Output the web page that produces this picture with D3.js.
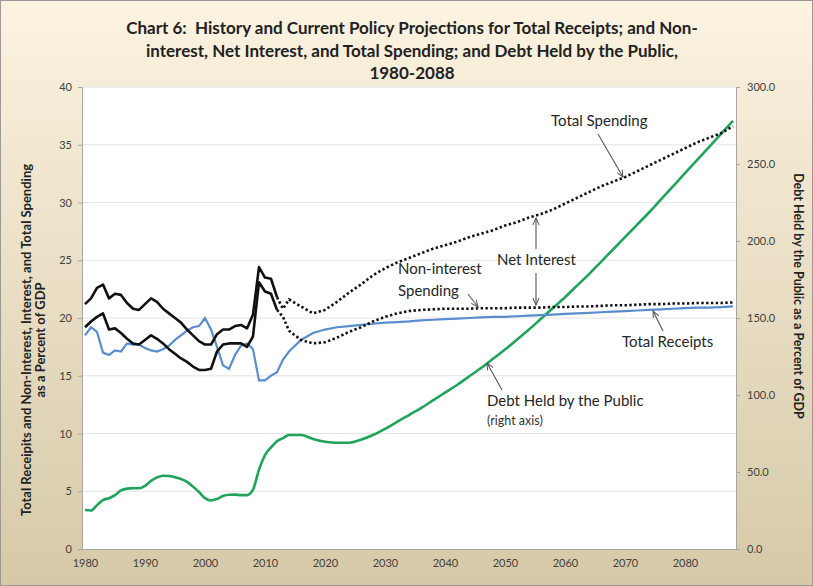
<!DOCTYPE html>
<meta charset="utf-8">
<head>
<script src="https://d3js.org/d3.v7.min.js"></script>
<style>
  body { margin: 0; }
  text { font-family: Lato, "Open Sans", sans-serif; }
  .tick-label { font-size: 11px; fill: #404040; }
  .note { font-size: 15px; fill: #262626; }
</style>
</head>
<body>
<svg width="813" height="586"></svg>
<script>
// history, one value per year 1980-2012
var histYears = d3.range(1980, 2013);
var spendHist = [21.2, 21.7, 22.6, 22.9, 21.7, 22.1, 22.0, 21.3, 20.8, 20.7, 21.2, 21.7, 21.4, 20.8, 20.4, 20.0, 19.6,
                 19.0, 18.5, 18.0, 17.7, 17.7, 18.6, 19.0, 19.0, 19.3, 19.4, 19.1, 20.3, 24.4, 23.5, 23.4, 21.8];
var nonIntHist = [19.2, 19.7, 20.1, 20.4, 19.0, 19.1, 18.7, 18.2, 17.8, 17.7, 18.1, 18.5, 18.2, 17.8, 17.3, 16.9, 16.5,
                  16.2, 15.8, 15.5, 15.5, 15.6, 17.1, 17.7, 17.8, 17.8, 17.8, 17.5, 18.4, 23.1, 22.3, 22.1, 20.7];
var receiptsHist = [18.5, 19.2, 18.8, 17.0, 16.8, 17.2, 17.1, 17.8, 17.7, 17.7, 17.4, 17.2, 17.1, 17.3, 17.6, 18.1, 18.5,
                    18.9, 19.2, 19.3, 20.0, 19.0, 17.5, 15.9, 15.6, 16.8, 17.6, 17.8, 17.3, 14.6, 14.6, 15.0, 15.3];
var debtHist = [25.3, 25.0, 28.5, 31.8, 33.0, 35.0, 38.0, 39.2, 39.5, 39.4, 41.0, 44.2, 46.5, 47.6, 47.4, 46.6, 45.5,
                43.6, 40.5, 37.0, 33.0, 31.5, 32.5, 34.4, 35.2, 35.3, 35.0, 35.0, 38.5, 51.5, 61.0, 66.0, 70.0];

// projections
var projYears = [2012, 2013].concat(d3.range(2014, 2089, 2));
var spendProj = [21.8, 20.8, 21.6, 21.0, 20.4, 20.7, 21.4, 22.2, 22.9, 23.7, 24.3, 24.8, 25.2, 25.6, 26.0, 26.3, 26.6,
                 27.0, 27.3, 27.6, 28.0, 28.3, 28.7, 29.0, 29.4, 29.9, 30.4, 30.9, 31.4, 31.8, 32.2, 32.7, 33.2, 33.7,
                 34.2, 34.7, 35.2, 35.6, 36.0, 36.6];
var nonIntProj = [20.7, 20.1, 18.9, 18.1, 17.8, 17.9, 18.3, 18.8, 19.2, 19.7, 20.1, 20.4, 20.6, 20.7, 20.75, 20.8, 20.8,
                  20.8, 20.85, 20.85, 20.85, 20.9, 20.9, 20.9, 20.95, 20.95, 21.0, 21.0, 21.05, 21.1, 21.1, 21.15, 21.2,
                  21.2, 21.25, 21.25, 21.3, 21.3, 21.3, 21.35];
var receiptsProj = [15.3, 16.4, 17.1, 18.1, 18.7, 19.0, 19.2, 19.3, 19.4, 19.5, 19.6, 19.65, 19.7, 19.8, 19.85, 19.9,
                    19.95, 20.0, 20.05, 20.1, 20.1, 20.15, 20.2, 20.25, 20.3, 20.35, 20.4, 20.45, 20.5, 20.55, 20.6,
                    20.65, 20.7, 20.75, 20.8, 20.85, 20.9, 20.9, 20.95, 21.0];
var debtProj = [70, 72, 74, 74, 71.5, 69.7, 69, 69, 71, 74, 78, 82.5, 87, 91.5, 96.5, 101.5, 106.5, 112, 117.5, 123.5,
                129.5, 136, 142.5, 149.5, 156.5, 163.5, 171, 178.5, 186.5, 194.5, 202.5, 210.5, 218.5, 227, 235.5,
                244, 252.5, 261, 269.5, 278];

var leftTicks = [0, 5, 10, 15, 20, 25, 30, 35, 40];
var rightTicks = [0, 50, 100, 150, 200, 250, 300];
var yearTicks = d3.range(1980, 2081, 10);

var svg = d3.select("svg"),
    plotL = 82, plotR = 736, plotT = 87, plotB = 549;

var defs = svg.append("defs");
var grad = defs.append("linearGradient").attr("id", "bg").attr("x1", 0).attr("y1", 0).attr("x2", 0).attr("y2", 1);
grad.append("stop").attr("offset", "0%").attr("stop-color", "#fcf3e1");
grad.append("stop").attr("offset", "100%").attr("stop-color", "#d5c9a7");

svg.append("rect").attr("width", 813).attr("height", 586).attr("fill", "url(#bg)");
svg.append("rect").attr("x", 0.5).attr("y", 0.5).attr("width", 812).attr("height", 585)
    .attr("fill", "none").attr("stroke", "#9a9a9a");
svg.append("rect").attr("x", plotL).attr("y", plotT).attr("width", plotR - plotL).attr("height", plotB - plotT)
    .attr("fill", "#fff");

var xScale = d3.scaleLinear().domain([1979.5, 2088.5]).range([plotL, plotR]),
    yScale = d3.scaleLinear().domain([0, 40]).range([plotB, plotT]),
    yScale2 = d3.scaleLinear().domain([0, 300]).range([plotB, plotT]);

// title
var titleLines = ["Chart 6:  History and Current Policy Projections for Total Receipts; and Non-",
                  "interest, Net Interest, and Total Spending; and Debt Held by the Public,",
                  "1980-2088"];
svg.selectAll(".title").data(titleLines).enter().append("text")
    .attr("x", 412).attr("y", function(d, i) { return 34 + i * 22.5; })
    .attr("text-anchor", "middle").attr("font-size", "17px").attr("font-weight", "bold").attr("fill", "#222")
    .attr("xml:space", "preserve")
    .text(function(d) { return d; });

// grid
svg.append("g").selectAll("line").data(leftTicks.slice(1)).enter().append("line")
    .attr("x1", plotL).attr("x2", plotR)
    .attr("y1", function(d) { return yScale(d); }).attr("y2", function(d) { return yScale(d); })
    .attr("stroke", "#e4e4e4");

// axes
var gl = svg.append("g").attr("transform", "translate(" + plotL + ",0)")
    .call(d3.axisLeft(yScale).tickValues(leftTicks).tickSize(4).tickPadding(6));
var gr = svg.append("g").attr("transform", "translate(" + plotR + ",0)")
    .call(d3.axisRight(yScale2).tickValues(rightTicks).tickSize(4).tickPadding(7).tickFormat(d3.format(".1f")));
var gb = svg.append("g").attr("transform", "translate(0," + plotB + ")")
    .call(d3.axisBottom(xScale).tickValues(yearTicks).tickSize(0).tickPadding(10).tickFormat(d3.format("d")));
[gl, gr, gb].forEach(function(g) {
    g.select(".domain").attr("stroke", "#a6a6a6");
    g.selectAll(".tick line").attr("stroke", "#a6a6a6");
    g.selectAll("text").attr("class", "tick-label");
    g.attr("font-family", null).attr("font-size", null);
});

// axis titles
var lt = svg.append("text").attr("transform", "translate(31,340) rotate(-90)")
    .attr("text-anchor", "middle").attr("font-size", "13px").attr("font-weight", "bold").attr("fill", "#222");
lt.append("tspan").attr("x", 0).attr("dy", 0).text("Total Receipits and Non-Interest, Interest, and Total Spending");
lt.append("tspan").attr("x", 0).attr("dy", 14).text("as a Percent of GDP");

svg.append("text").attr("transform", "translate(794,296) rotate(90)")
    .attr("text-anchor", "middle").attr("font-size", "12.5px").attr("font-weight", "bold").attr("fill", "#222")
    .text("Debt Held by the Public as a Percent of GDP");

// lines
function pts(years, vals) { return years.map(function(y, i) { return [y, vals[i]]; }); }
var line = d3.line().x(function(d) { return xScale(d[0]); }).y(function(d) { return yScale(d[1]); });
var line2 = d3.line().curve(d3.curveMonotoneX)
    .x(function(d) { return xScale(d[0]); }).y(function(d) { return yScale2(d[1]); });

var plot = svg.append("g");
plot.append("path").datum(pts(histYears, debtHist).concat(pts(projYears.slice(1), debtProj.slice(1))))
    .attr("d", line2).attr("fill", "none").attr("stroke", "#20a35a").attr("stroke-width", 2.6);
plot.append("path").datum(pts(histYears, receiptsHist).concat(pts(projYears.slice(1), receiptsProj.slice(1))))
    .attr("d", line).attr("fill", "none").attr("stroke", "#5a8dcb").attr("stroke-width", 2.2);
[nonIntHist, spendHist].forEach(function(v) {
    plot.append("path").datum(pts(histYears, v)).attr("d", line)
        .attr("fill", "none").attr("stroke", "#111").attr("stroke-width", 2.6).attr("stroke-linejoin", "round");
});
[nonIntProj, spendProj].forEach(function(v) {
    plot.append("path").datum(pts(projYears, v)).attr("d", line)
        .attr("fill", "none").attr("stroke", "#111").attr("stroke-width", 2.6)
        .attr("stroke-dasharray", "2.4,2.4");
});

// annotations
var notes = [
    {t: "Total Spending", x: 551, y: 126},
    {t: "Net Interest", x: 497, y: 265},
    {t: "Non-interest", x: 398, y: 274},
    {t: "Spending", x: 398, y: 296},
    {t: "Total Receipts", x: 622, y: 347},
    {t: "Debt Held by the Public", x: 487, y: 406}
];
svg.selectAll(".note").data(notes).enter().append("text").attr("class", "note")
    .attr("x", function(d) { return d.x; }).attr("y", function(d) { return d.y; })
    .text(function(d) { return d.t; });
svg.append("text").attr("x", 487).attr("y", 425).attr("font-size", "12.5px").attr("fill", "#333").text("(right axis)");

defs.append("marker").attr("id", "arr").attr("viewBox", "0 0 10 10").attr("refX", 9).attr("refY", 5)
    .attr("markerWidth", 7).attr("markerHeight", 7).attr("orient", "auto-start-reverse")
    .append("path").attr("d", "M0,1 L9,5 L0,9").attr("fill", "none").attr("stroke", "#555").attr("stroke-width", 1.3);

var arrows = [
    [598, 134, 623, 177],
    [536, 249, 536, 218],
    [536, 273, 536, 305],
    [468, 294, 478, 307],
    [663, 331, 653, 311],
    [502, 390, 487, 363]
];
svg.selectAll(".arrow").data(arrows).enter().append("line")
    .attr("x1", function(d) { return d[0]; }).attr("y1", function(d) { return d[1]; })
    .attr("x2", function(d) { return d[2]; }).attr("y2", function(d) { return d[3]; })
    .attr("stroke", "#555").attr("stroke-width", 1.1).attr("marker-end", "url(#arr)");
</script>
</body>
